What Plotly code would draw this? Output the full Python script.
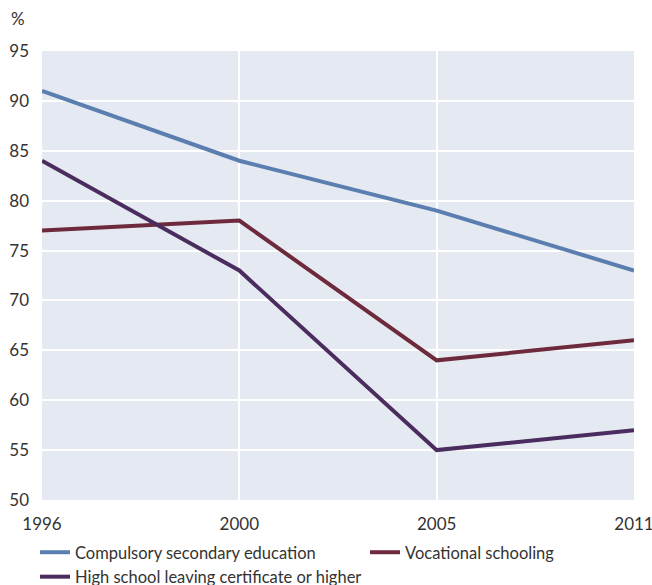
import plotly.graph_objects as go

years = ["1996", "2000", "2005", "2011"]
compulsory = [91, 84, 79, 73]
vocational = [77, 78, 64, 66]
highschool = [84, 73, 55, 57]

series = [
    ("Compulsory secondary education", compulsory, "#5b7eb0", "legend"),
    ("Vocational schooling", vocational, "#6d2a3c", "legend2"),
    ("High school leaving certificate or higher", highschool, "#4a2d5e", "legend"),
]

W, H = 652, 585
fig = go.Figure()
for name, vals, color, lg in series:
    fig.add_trace(go.Scatter(x=years, y=vals, name=name, mode="lines",
                             line=dict(color=color, width=4), legend=lg))

legfont = dict(size=16.5, color="#333333")
fig.update_layout(
    width=W, height=H,
    margin=dict(l=42, r=18, t=51, b=85, autoexpand=False),
    paper_bgcolor="white",
    plot_bgcolor="#e5e9f1",
    font=dict(family="Lato, 'Open Sans', sans-serif", size=17, color="#333333"),
    showlegend=True,
    legend=dict(orientation="v", xref="container", yref="container",
                x=35 / W, xanchor="left", y=1 - 535 / H, yanchor="top",
                font=legfont, tracegroupgap=0, itemwidth=30,
                bgcolor="rgba(0,0,0,0)"),
    legend2=dict(orientation="v", xref="container", yref="container",
                 x=365 / W, xanchor="left", y=1 - 535 / H, yanchor="top",
                 font=legfont, itemwidth=30, bgcolor="rgba(0,0,0,0)"),
    xaxis=dict(type="category", showgrid=True, gridcolor="white", gridwidth=2,
               zeroline=False, showline=False, ticks="", range=[0, 3],
               tickfont=dict(size=17), automargin=False, ticklabelstandoff=12),
    yaxis=dict(range=[50, 95], dtick=5, showgrid=True, gridcolor="white", gridwidth=2,
               zeroline=False, showline=False, ticks="", tickfont=dict(size=17),
               automargin=False, ticklabelstandoff=12),
)
fig.add_annotation(text="%", xref="paper", yref="paper", x=-0.055, y=1.045,
                   xanchor="left", yanchor="bottom", showarrow=False,
                   font=dict(size=17, color="#333333"))

fig.write_html("out.html")
